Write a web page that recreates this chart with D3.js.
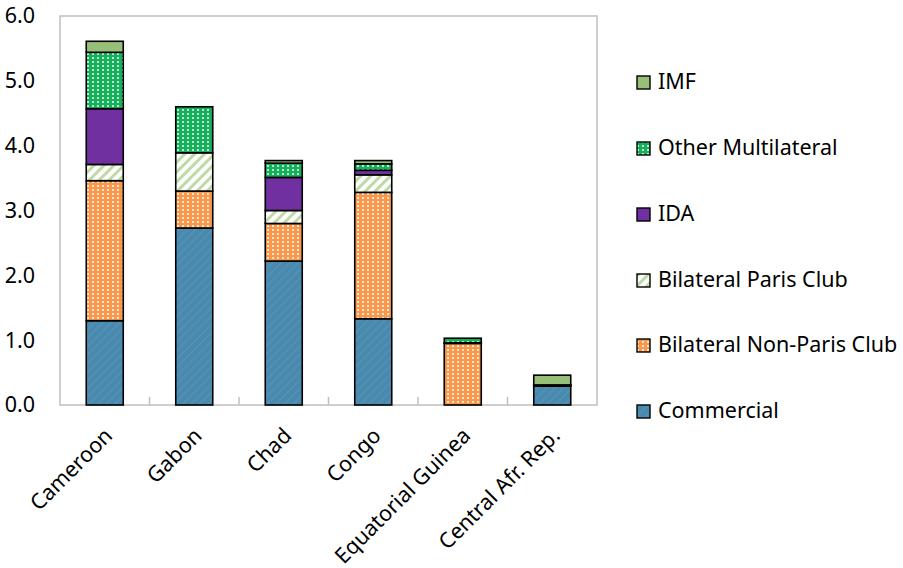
<!DOCTYPE html>
<html><head><meta charset="utf-8">
<script src="https://cdn.jsdelivr.net/npm/d3@7"></script>
<style>
html,body{margin:0;padding:0;background:#fff;}
text{font-family:"Noto Sans","Open Sans",sans-serif;fill:#000;}
</style></head>
<body><svg id="c" width="903" height="568"></svg>
<script>
const categories = ["Cameroon","Gabon","Chad","Congo","Equatorial Guinea","Central Afr. Rep."];
const seriesNames = ["Commercial","Bilateral Non-Paris Club","Bilateral Paris Club","IDA","Other Multilateral","IMF"];
const commercial   = [1.30, 2.73, 2.22, 1.33, 0.00, 0.29];
const nonParis     = [2.16, 0.57, 0.58, 1.95, 0.95, 0.00];
const paris        = [0.25, 0.59, 0.20, 0.27, 0.01, 0.01];
const ida          = [0.86, 0.00, 0.51, 0.07, 0.00, 0.01];
const otherMulti   = [0.87, 0.71, 0.22, 0.10, 0.07, 0.00];
const imf          = [0.17, 0.00, 0.04, 0.05, 0.00, 0.15];
const yTicks = [0,1,2,3,4,5,6];

const seriesValues = [commercial, nonParis, paris, ida, otherMulti, imf];
const keys = ["commercial","nonParis","paris","ida","otherMulti","imf"];
const table = categories.map((c,i)=>{const o={cat:c}; keys.forEach((k,j)=>o[k]=seriesValues[j][i]); return o;});

const svg = d3.select("#c");
const defs = svg.append("defs");
function dotPattern(id, base){
  const p = defs.append("pattern").attr("id",id).attr("patternUnits","userSpaceOnUse").attr("width",5).attr("height",4);
  p.append("rect").attr("width",5).attr("height",4).attr("fill",base);
  p.append("rect").attr("x",2).attr("y",1).attr("width",2).attr("height",2).attr("fill","#fff").attr("opacity",0.75);
}
dotPattern("pNon","#F7984D");
dotPattern("pOther","#14B05A");
const pp = defs.append("pattern").attr("id","pParis").attr("patternUnits","userSpaceOnUse").attr("width",7).attr("height",7).attr("patternTransform","rotate(45)");
pp.append("rect").attr("width",7).attr("height",7).attr("fill","#fff");
pp.append("rect").attr("x",0).attr("width",3).attr("height",7).attr("fill","#BFDAA6");
const pc = defs.append("pattern").attr("id","pComm").attr("patternUnits","userSpaceOnUse").attr("width",6).attr("height",6).attr("patternTransform","rotate(45)");
pc.append("rect").attr("width",6).attr("height",6).attr("fill","#4A89AE");
pc.append("rect").attr("width",1.5).attr("height",6).attr("fill","#5391B5");

const fills = {commercial:"url(#pComm)", nonParis:"url(#pNon)", paris:"url(#pParis)", ida:"#7030A0", otherMulti:"url(#pOther)", imf:"#97BF78"};

const FS = "21.5px";
const L=60, R=597, T=16, B=405;
const x = d3.scaleBand().domain(categories).range([L,R]).paddingInner(0).paddingOuter(0);
const y = d3.scaleLinear().domain([0,6]).range([B,T]);

// plot frame
svg.append("rect").attr("x",L).attr("y",T).attr("width",R-L).attr("height",B-T).attr("fill","none").attr("stroke","#BFBFBF").attr("stroke-width",1.5);

// x ticks at boundaries (inside)
categories.slice(1).forEach((c)=>{
  const xx = x(c);
  svg.append("line").attr("x1",xx).attr("x2",xx).attr("y1",B).attr("y2",B-8).attr("stroke","#BFBFBF").attr("stroke-width",1.5);
});

// y labels
const yAxis = d3.axisLeft(y).tickValues(yTicks).tickFormat(d3.format(".1f")).tickSize(0).tickPadding(25);
const ga = svg.append("g").attr("transform",`translate(${L},0)`).call(yAxis);
ga.select(".domain").remove();
ga.selectAll("text").style("font-size",FS).attr("fill","#000").style("font-family","'Noto Sans',sans-serif");

// stacked bars
const stack = d3.stack().keys(keys)(table);
const bw = 37;
stack.forEach(layer=>{
  svg.append("g").selectAll("rect").data(layer).join("rect")
    .attr("x",d=>x(d.data.cat)+x.bandwidth()/2-bw/2)
    .attr("width",bw)
    .attr("y",d=>y(d[1]))
    .attr("height",d=>Math.max(0,y(d[0])-y(d[1])))
    .attr("fill",fills[layer.key])
    .attr("stroke","#000").attr("stroke-width",d=>(d[1]-d[0])>0?1.6:0);
});

// x labels
svg.append("g").selectAll("text").data(categories).join("text")
  .attr("transform",d=>`translate(${x(d)+x.bandwidth()/2+9},${B+32}) rotate(-45)`)
  .attr("text-anchor","end")
  .style("font-size",FS)
  .text(d=>d);

// legend
const legendY = [411,345,280,214,148,82];
const lg = svg.append("g");
keys.forEach((k,i)=>{
  const yy = legendY[i];
  lg.append("rect").attr("x",637).attr("y",yy-6).attr("width",13).attr("height",13).attr("fill",fills[k]).attr("stroke","#000").attr("stroke-width",1.4);
  lg.append("text").attr("x",658).attr("y",yy+7).style("font-size",FS).text(seriesNames[i]);
});
</script></body></html>
